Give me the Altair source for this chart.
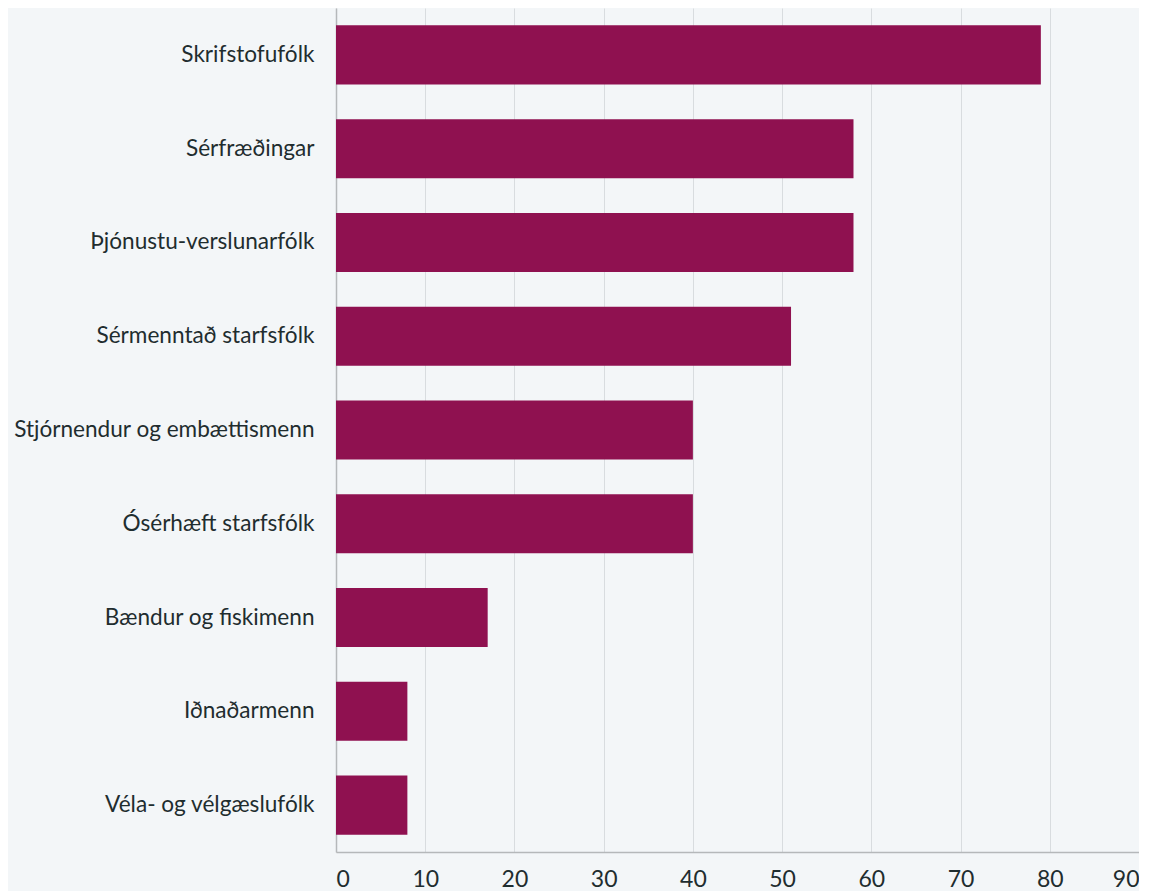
import altair as alt
import pandas as pd

categories = [
    "Skrifstofufólk",
    "Sérfræðingar",
    "Þjónustu-verslunarfólk",
    "Sérmenntað starfsfólk",
    "Stjórnendur og embættismenn",
    "Ósérhæft starfsfólk",
    "Bændur og fiskimenn",
    "Iðnaðarmenn",
    "Véla- og vélgæslufólk",
]
values = [79, 58, 58, 51, 40, 40, 17, 8, 8]
x_ticks = [0, 10, 20, 30, 40, 50, 60, 70, 80, 90]

df = pd.DataFrame({"cat": categories, "val": values})

chart = (
    alt.Chart(df)
    .mark_bar(color="#8f1150")
    .encode(
        x=alt.X(
            "val:Q",
            scale=alt.Scale(domain=[0, 90], nice=False),
            axis=alt.Axis(
                title=None,
                values=x_ticks,
                grid=True,
                gridColor="#d8dcdf",
                ticks=False,
                domainColor="#b5b8ba",
                domainWidth=1.5,
                labelFont="Lato",
                labelFontSize=23,
                labelColor="#1f2d2f",
                labelPadding=16,
            ),
        ),
        y=alt.Y(
            "cat:N",
            sort=categories,
            scale=alt.Scale(paddingInner=0.37, paddingOuter=0.185),
            axis=alt.Axis(
                title=None,
                ticks=False,
                domainColor="#b5b8ba",
                domainWidth=1.5,
                labelFont="Lato",
                labelFontSize=22.6,
                labelColor="#1f2d2f",
                labelPadding=22,
                labelLimit=400,
            ),
        ),
    )
    .properties(width=803, height=844, background="#f3f6f8", padding={"left": 5, "top": 0, "right": 0, "bottom": 0})
    .configure_view(stroke=None)
)

chart.save("out.html", embed_options={"renderer": "svg", "actions": False})
